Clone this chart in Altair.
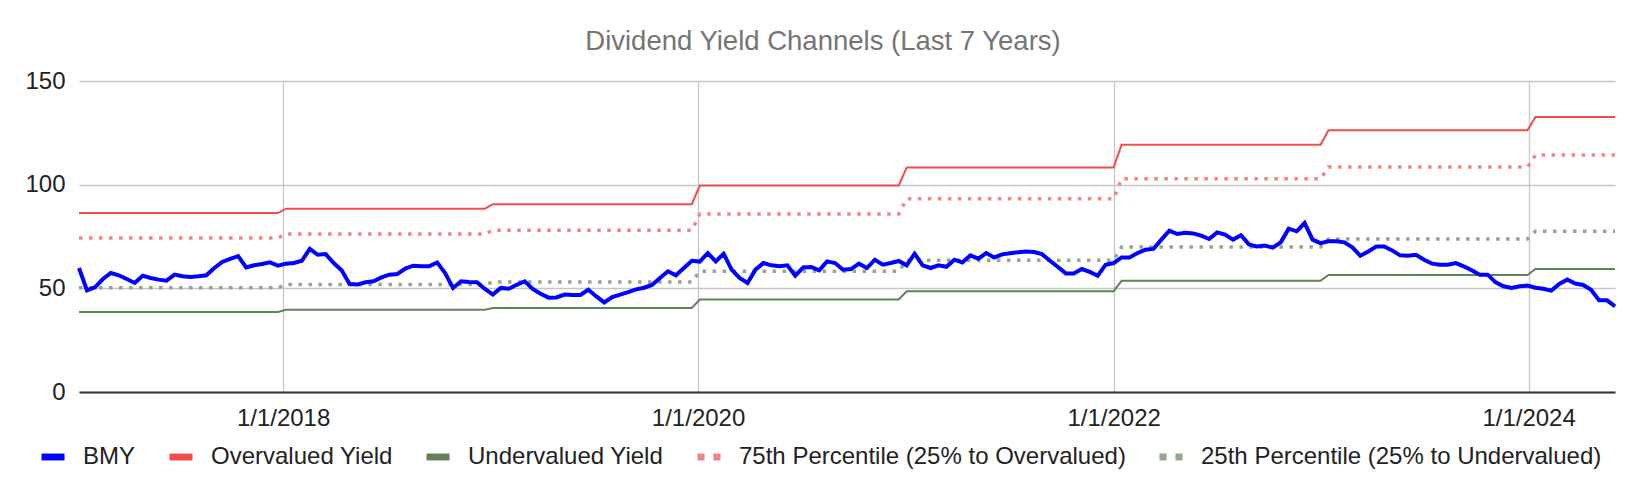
import altair as alt
import pandas as pd

# ---------------- data ----------------
start_date = "2017-01-07"
sample_every = "14D"

bmy = [
    59.8, 49.0, 50.5, 54.5, 57.4, 56.3, 54.5, 52.6, 56.1, 55.0,
    54.2, 53.7, 56.6, 55.8, 55.5, 55.8, 56.3, 59.8, 62.7, 64.2,
    65.5, 60.1, 61.1, 61.7, 62.5, 60.9, 61.9, 62.2, 63.3, 69.0,
    66.2, 66.5, 62.2, 58.7, 52.1, 51.8, 52.9, 53.4, 55.3, 56.6,
    56.9, 59.5, 60.9, 60.6, 60.6, 62.5, 57.4, 50.2, 53.4, 53.0,
    52.9, 49.7, 47.0, 50.2, 49.8, 51.7, 53.4, 49.7, 47.4, 45.5,
    45.6, 47.0, 46.8, 46.8, 49.3, 46.1, 43.2, 45.8, 47.0, 48.2,
    49.5, 50.3, 51.6, 55.0, 58.2, 56.3, 59.8, 63.3, 62.9, 67.0,
    63.0, 66.7, 59.0, 55.0, 52.6, 59.0, 62.2, 61.1, 60.6, 61.1,
    56.1, 60.1, 60.3, 58.7, 63.0, 62.2, 59.0, 59.3, 61.9, 59.8,
    63.8, 61.4, 62.2, 63.2, 61.1, 66.7, 61.1, 59.8, 61.1, 60.4,
    63.8, 62.5, 65.9, 64.3, 67.0, 64.9, 66.4, 66.9, 67.4, 67.8,
    67.5, 66.5, 63.3, 60.3, 57.2, 57.2, 59.3, 57.9, 56.1, 61.4,
    62.2, 64.9, 64.9, 67.0, 68.6, 69.0, 73.5, 77.8, 76.2, 76.8,
    76.5, 75.4, 73.8, 77.0, 75.9, 73.5, 75.6, 71.2, 70.2, 70.6,
    69.6, 72.2, 78.8, 77.5, 81.5, 73.5, 71.8, 72.7, 72.7, 72.2,
    69.8, 65.7, 67.8, 70.2, 70.2, 68.3, 65.9, 65.7, 66.2, 63.8,
    61.9, 61.4, 61.4, 62.2, 60.6, 58.7, 56.6, 56.6, 52.9, 51.0,
    50.2, 51.0, 51.3, 50.3, 49.8, 48.9, 52.1, 54.2, 52.3, 51.6,
    49.3, 44.2, 44.2, 41.3,
]

# channel levels and the first sample date on which each level applies
channel_from = ["2017-01-07", "2018-01-06", "2019-01-05", "2020-01-04",
                "2021-01-02", "2022-01-15", "2023-01-14", "2024-01-13"]
overvalued = [86.3, 88.4, 90.6, 99.6, 108.3, 119.3, 126.2, 132.6]
pct75 = [74.3, 76.2, 78.0, 85.8, 93.2, 102.8, 108.5, 114.3]
pct25 = [50.3, 51.8, 53.0, 58.2, 63.5, 69.9, 73.8, 77.5]
undervalued = [38.6, 39.7, 40.5, 44.6, 48.6, 53.6, 56.4, 59.3]

series_names = ["BMY", "Overvalued Yield", "Undervalued Yield",
                "75th Percentile (25% to Overvalued)",
                "25th Percentile (25% to Undervalued)"]
series_colors = ["#0000ff", "#f24b4b", "#62815a", "#f48484", "#94a78c"]
tick_years = [2018, 2020, 2022, 2024]

# ---------------- build long table ----------------
dates = pd.date_range(start_date, periods=len(bmy), freq=sample_every)
starts = pd.to_datetime(channel_from)
level_idx = [int((starts <= d).sum()) - 1 for d in dates]

rows = []
for d, v, k in zip(dates, bmy, level_idx):
    rows.append((d, series_names[0], v))
    rows.append((d, series_names[1], overvalued[k]))
    rows.append((d, series_names[2], undervalued[k]))
    rows.append((d, series_names[3], pct75[k]))
    rows.append((d, series_names[4], pct25[k]))
df = pd.DataFrame(rows, columns=["date", "series", "value"])

FONT = "Liberation Sans"

x_enc = alt.X(
    "date:T",
    scale=alt.Scale(nice=False),
    axis=alt.Axis(
        title=None,
        values=[alt.DateTime(year=y, month=1, date=1) for y in tick_years],
        format="%-m/%-d/%Y",
        grid=True, gridColor="#c6c6c6", gridWidth=1.3,
        domainColor="#333333", domainWidth=2,
        ticks=False, tickSize=0,
        labelFont=FONT, labelFontSize=24, labelColor="#222222",
        labelPadding=14, labelOverlap=False, labelFlush=False,
    ),
)
y_enc = alt.Y(
    "value:Q",
    scale=alt.Scale(domain=[0, 150], nice=False),
    axis=alt.Axis(
        title=None, values=[0, 50, 100, 150],
        domain=False, ticks=False, tickSize=0,
        grid=True, gridColor="#c6c6c6", gridWidth=1.3,
        labelFont=FONT, labelFontSize=24, labelColor="#222222",
        labelPadding=14,
    ),
)
color_scale = alt.Scale(domain=series_names, range=series_colors)

base = alt.Chart(df)

solid_steps = base.transform_filter(
    alt.FieldOneOfPredicate(field="series", oneOf=[series_names[1], series_names[2]])
).mark_line(strokeWidth=2).encode(
    x=x_enc, y=y_enc,
    color=alt.Color("series:N", scale=color_scale, legend=None),
    detail="series:N",
)

dotted_steps = base.transform_filter(
    alt.FieldOneOfPredicate(field="series", oneOf=[series_names[3], series_names[4]])
).mark_line(strokeWidth=3.5, strokeDash=[3.5, 6.5]).encode(
    x=x_enc, y=y_enc,
    color=alt.Color("series:N", scale=color_scale, legend=None),
    detail="series:N",
)

bmy_line = base.transform_filter(
    alt.datum.series == series_names[0]
).mark_line(strokeWidth=4).encode(
    x=x_enc, y=y_enc,
    color=alt.Color("series:N", scale=color_scale, legend=None),
)

solid_sym = "M-1,-0.3H1V0.3H-1Z"
dot_sym = "M-1,-0.3H-0.39V0.3H-1ZM0.39,-0.3H1V0.3H0.39Z"
leg = alt.Legend(
    title=None, orient="none", legendX=-38, legendY=364,
    direction="horizontal", padding=0,
    labelFont=FONT, labelFontSize=24, labelColor="#222222", labelLimit=0,
    labelOffset=18, columnPadding=33,
    symbolSize=529, symbolStrokeWidth=0, symbolOpacity=1,
)
legend_layer = base.transform_filter("false").mark_point(filled=True).encode(
    x=x_enc, y=y_enc,
    color=alt.Color("series:N", scale=color_scale, legend=leg),
    shape=alt.Shape("series:N",
                    scale=alt.Scale(domain=series_names,
                                    range=[solid_sym, solid_sym, solid_sym, dot_sym, dot_sym]),
                    legend=leg),
)

chart = alt.layer(legend_layer, solid_steps, dotted_steps, bmy_line).properties(
    width=1536, height=311,
    title=alt.TitleParams(
        "Dividend Yield Channels (Last 7 Years)",
        font=FONT, fontSize=27.5, fontWeight="normal", color="#757575",
        anchor="middle", dx=-24, offset=14,
    ),
    autosize=alt.AutoSizeParams(type="none"),
    padding={"left": 71, "top": 73, "right": 17, "bottom": 94},
    background="white",
).configure_view(stroke=None)

chart.save("out.html", embed_options={"renderer": "svg", "actions": False})
